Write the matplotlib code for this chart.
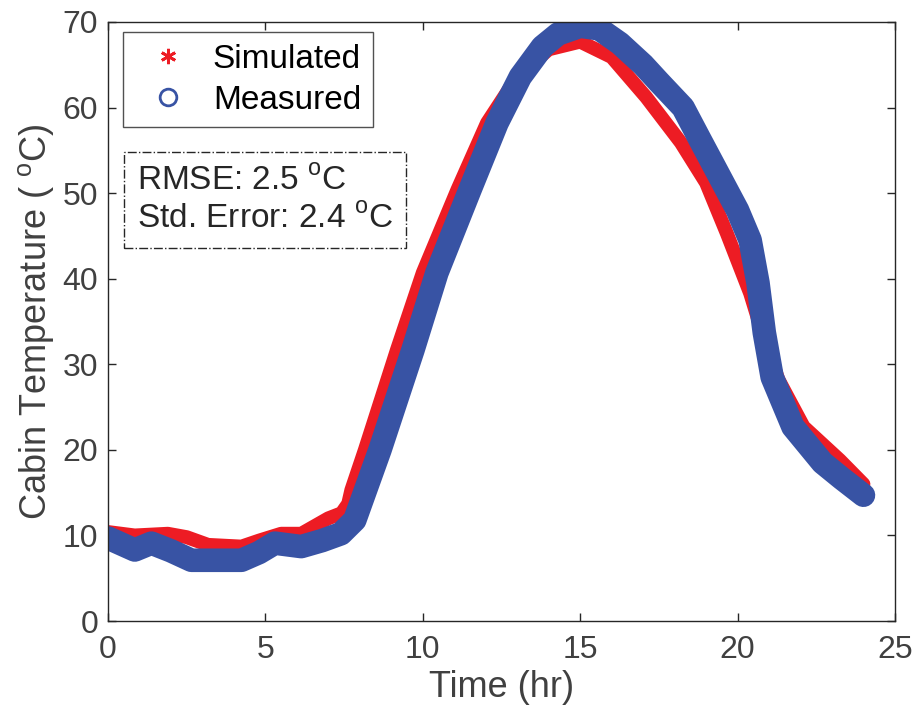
import matplotlib.pyplot as plt
from matplotlib.lines import Line2D

plt.rcParams['font.family'] = ['Liberation Sans', 'DejaVu Sans']
plt.rcParams['mathtext.fontset'] = 'custom'
plt.rcParams['mathtext.rm'] = 'Liberation Sans'

# measured cabin temperature (blue circles)
t_meas = [0, 0.85, 1.38, 2.0, 2.65, 3.4, 4.24, 4.8, 5.3, 6.14, 6.8, 7.4, 7.84,
          8.64, 9.69, 10.45, 11.5, 12.36, 13.1, 13.8, 14.3, 15.0, 15.6, 16.26,
          17.0, 17.5, 18.27, 18.8, 19.35, 20.0, 20.4, 20.65, 20.85, 21.1,
          21.76, 22.7, 23.3, 24.0]
T_meas = [9.7, 8.3, 9.1, 8.2, 7.1, 7.1, 7.1, 8.0, 9.1, 8.7, 9.4, 10.2, 11.8,
          20.0, 31.7, 40.7, 50.4, 58.2, 63.6, 67.1, 68.6, 69.5, 69.2, 67.5,
          65.0, 63.0, 60.0, 56.3, 52.5, 48.0, 44.5, 39.5, 33.7, 28.5,
          22.7, 18.5, 16.7, 14.7]

# simulated cabin temperature (red asterisks)
t_sim = [0, 0.85, 1.9, 2.5, 3.18, 4.24, 4.8, 5.5, 6.14, 7.0, 7.42, 7.63, 7.73,
         8.16, 9.18, 10.0, 11.1, 12.04, 13.0, 14.0, 15.0, 16.0, 17.1, 18.2,
         19.0, 19.66, 20.4, 20.8, 21.3, 22.1, 23.25, 24.0]
T_sim = [10.4, 10.0, 10.2, 9.8, 8.9, 8.7, 9.4, 10.2, 10.2, 12.0, 12.6, 13.7, 15.3,
         20.0, 31.7, 40.7, 50.4, 58.2, 63.6, 66.8, 67.7, 65.9, 61.2, 55.9,
         51.2, 45.3, 38.3, 33.5, 28.2, 22.7, 18.8, 16.0]

red = '#ED1C24'
blue = '#3853A4'
grey = '#262626'
txt = '#404040'

fig = plt.figure(figsize=(9.16, 7.25), dpi=100)
ax = fig.add_axes([0.1179, 0.1434, 0.8591, 0.8263])

ax.plot(t_sim, T_sim, color=red, lw=10, solid_capstyle='round', solid_joinstyle='round')
ax.plot(t_meas, T_meas, color=blue, lw=17, solid_capstyle='round', solid_joinstyle='round')

ax.set_xlim(0, 25)
ax.set_ylim(0, 70)
ax.set_xticks(range(0, 26, 5))
ax.set_yticks(range(0, 71, 10))
ax.tick_params(direction='in', length=6, width=1, top=True, right=True,
               labelsize=23, colors=grey, labelcolor=txt)
ax.tick_params(axis='x', pad=10)
ax.tick_params(axis='y', pad=7)
for s in ax.spines.values():
    s.set_color(grey)
    s.set_linewidth(1)

ax.set_xlabel('Time (hr)', fontsize=26, color=txt, labelpad=4)
ax.set_ylabel('Cabin Temperature ( $^{\\mathrm{o}}$C)', fontsize=26, color=txt, labelpad=5)

handles = [Line2D([], [], ls='none', marker=(6, 2, 0), color=red, mew=2, markersize=11),
           Line2D([], [], ls='none', marker='o', mfc='none', mec=blue, mew=2, markersize=12)]
leg = ax.legend(handles, ['Simulated', 'Measured'], loc='upper left',
                bbox_to_anchor=(0.019, 0.983), fontsize=24, fancybox=False,
                handletextpad=0.35, borderpad=0.35, labelspacing=0.3, handlelength=2.0,
                borderaxespad=0)
leg.get_frame().set_edgecolor(grey)
leg.get_frame().set_linewidth(1)

ax.text(0.0368, 0.703, 'RMSE: 2.5 $^{\\mathrm{o}}$C\nStd. Error: 2.4 $^{\\mathrm{o}}$C',
        transform=ax.transAxes, fontsize=24, color=grey, va='center', ha='left',
        linespacing=1.3,
        bbox=dict(boxstyle='square,pad=0.4', fc='white', ec=grey, ls='-.', lw=1))

fig.savefig('out.png', dpi=100)
